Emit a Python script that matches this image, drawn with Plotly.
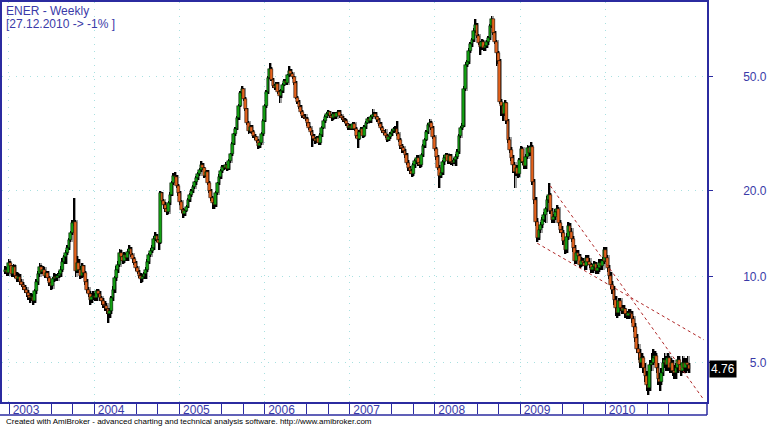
import math
import pandas as pd
import plotly.graph_objects as go

# weekly closes (open of each bar = previous close)
first_open = 10.4
close = [
    10.6, 10.3, 11.2, 10.9, 10.2, 10.8,
    10.1, 9.8, 10.0, 9.6, 9.4, 9.2,
    9.0, 8.8, 8.6, 8.4, 8.5, 8.2,
    8.9, 9.6, 10.2, 10.8, 10.4, 10.6,
    10.1, 10.3, 9.9, 9.5, 9.3, 9.8,
    10.0, 9.9, 10.1, 10.2, 10.6, 11.3, 11.7,
    12.1, 12.6, 13.4, 14.2, 15.4, 15.6,
    10.5, 11.2, 10.6, 10.1, 10.9, 10.3,
    9.6, 9.0, 8.7, 8.3, 8.5, 8.6,
    8.4, 8.9, 8.7, 8.4, 8.2, 8.0,
    7.9, 7.7, 7.4, 7.6, 8.4, 9.0,
    9.9, 10.6, 11.0, 12.1, 11.7, 11.4,
    11.9, 11.6, 12.2, 12.5, 11.9, 11.5,
    11.2, 10.7, 10.4, 10.1, 9.8, 10.0, 10.2,
    10.6, 11.3, 11.9, 12.3, 12.6, 13.6,
    13.9, 13.4, 13.1, 19.6, 18.4, 17.8,
    17.2, 16.9, 18.1, 19.4, 21.2, 22.6,
    22.3, 20.8, 19.6, 18.2, 17.1, 16.6,
    17.0, 17.6, 18.6, 19.3, 19.9, 20.6,
    21.4, 22.1, 22.8, 23.6, 24.7, 24.0,
    22.6, 23.2, 21.3, 20.0, 18.8, 18.1,
    17.8, 19.6, 21.2, 22.4, 23.5, 24.2, 24.0,
    24.6, 23.9, 25.4, 26.8, 29.2, 31.5,
    33.0, 35.8, 39.6, 43.8, 45.2, 42.0,
    38.5, 34.6, 32.3, 33.4, 32.0, 31.2,
    30.8, 29.9, 28.7, 29.4, 31.6, 35.2,
    39.5, 44.2, 49.6, 53.5, 48.8, 46.5,
    45.8, 47.2, 44.3, 42.8, 44.6, 46.9,
    48.3, 47.5, 50.6, 52.4, 51.2, 49.8,
    47.6, 42.3, 41.0, 39.2, 37.6, 36.4, 36.0,
    35.7, 34.4, 33.1, 32.0, 31.2, 30.4,
    29.8, 30.6, 29.4, 31.3, 33.2, 35.1,
    36.3, 37.0, 37.6, 36.4, 35.8, 37.1,
    36.2, 37.3, 37.8, 36.6, 35.9, 35.4,
    35.0, 34.1, 33.2, 33.8, 33.0, 34.2,
    32.8, 31.1, 30.4, 32.2, 33.0, 31.2,
    33.4, 34.6, 35.7, 35.0, 36.2, 36.8,
    37.2, 36.1, 35.4, 34.3, 33.1, 32.4, 31.8,
    31.0, 30.2, 30.8, 31.6, 32.3, 33.0,
    32.8, 31.6, 30.1, 28.6, 28.2, 27.5,
    26.6, 25.1, 24.0, 23.4, 22.9, 24.6,
    25.4, 26.1, 25.0, 24.6, 26.7, 28.6,
    30.2, 32.1, 34.0, 34.6, 33.2, 30.8,
    28.0, 26.2, 24.1, 22.6, 23.1, 25.2,
    26.1, 26.6, 25.4, 26.4, 25.2, 25.0, 25.6,
    26.3, 27.4, 31.2, 33.1, 33.8, 45.5,
    55.2, 56.4, 61.8, 65.0, 67.3, 72.5,
    76.0, 69.4, 65.8, 63.5, 66.4, 63.0,
    64.2, 66.0, 68.3, 75.2, 79.5, 71.0,
    66.2, 60.5, 56.8, 41.0, 39.5, 37.2,
    40.5, 35.0, 30.2, 27.8, 26.0, 24.6,
    23.2, 24.1, 22.8, 25.6, 28.0, 25.2,
    24.4, 26.3, 28.2, 27.0, 28.5, 21.5,
    18.5, 15.6, 13.7, 14.6, 15.2, 15.8, 16.4,
    17.2, 18.6, 19.3, 17.0, 15.8, 16.2,
    16.8, 17.2, 15.4, 14.6, 14.2, 13.3,
    12.4, 13.8, 15.1, 14.4, 13.6, 12.6,
    11.4, 12.1, 11.8, 11.0, 11.4, 11.2,
    10.9, 11.6, 11.3, 11.0, 10.6, 10.8,
    11.1, 10.5, 10.7, 11.2, 10.9, 11.4,
    12.4, 11.6, 10.7, 10.1, 9.4, 9.0,
    8.3, 7.8, 7.5, 8.2, 7.8, 7.6, 7.7,
    7.4, 7.3, 7.5, 7.4, 7.1, 6.7,
    6.1, 5.6, 5.4, 5.0, 5.2, 4.8,
    4.5, 4.2, 4.1, 4.9, 5.0, 5.2,
    5.3, 4.8, 4.4, 4.3, 4.6, 5.0,
    5.1, 4.9, 5.2, 4.8, 5.0, 4.7,
    4.6, 4.8, 5.1, 4.9, 4.7, 5.0,
    4.8, 5.0, 4.9, 4.76,
]
high = [
    10.9, 10.8, 11.5, 11.4, 11.0, 11.1,
    11.0, 10.4, 10.3, 10.2, 9.8, 9.6,
    9.4, 9.2, 9.0, 8.8, 8.8, 8.7,
    9.1, 9.8, 10.5, 11.2, 11.0, 10.9,
    10.8, 10.5, 10.5, 10.1, 9.7, 10.0,
    10.3, 10.2, 10.3, 10.5, 10.9, 11.6, 11.9,
    12.4, 12.9, 13.7, 14.5, 15.8, 18.9,
    15.8, 11.8, 11.5, 10.9, 11.2, 11.0,
    10.5, 9.8, 9.2, 8.9, 8.8, 8.9,
    8.8, 9.1, 9.1, 8.9, 8.6, 8.4,
    8.2, 8.1, 7.8, 7.8, 8.6, 9.3,
    10.1, 10.9, 11.4, 12.5, 12.4, 11.9,
    12.2, 12.1, 12.5, 12.9, 12.7, 12.1,
    11.7, 11.4, 10.9, 10.6, 10.3, 10.2, 10.4,
    10.8, 11.5, 12.1, 12.6, 12.9, 13.9,
    14.3, 14.1, 13.6, 19.9, 19.8, 18.7,
    18.2, 17.6, 18.4, 19.8, 21.6, 23.0,
    23.2, 22.7, 21.1, 19.9, 18.5, 17.4,
    17.3, 17.9, 18.9, 19.6, 20.2, 20.9,
    21.7, 22.5, 23.2, 24.0, 25.5, 25.1,
    24.3, 23.6, 23.6, 21.6, 20.3, 19.1,
    18.5, 19.9, 21.5, 22.8, 23.9, 24.6, 24.7,
    25.2, 24.9, 25.8, 27.2, 29.6, 31.9,
    33.5, 36.4, 40.2, 44.5, 46.5, 45.8,
    42.6, 39.0, 35.1, 34.0, 33.9, 32.5,
    31.7, 31.2, 30.3, 29.9, 32.0, 35.7,
    40.1, 44.9, 50.5, 56.0, 54.2, 49.5,
    47.3, 47.9, 47.9, 44.9, 45.3, 47.6,
    49.0, 49.1, 51.3, 54.5, 53.1, 51.9,
    50.5, 48.3, 42.9, 41.6, 39.8, 38.2, 37.0,
    37.0, 36.2, 34.9, 33.6, 32.5, 31.7,
    30.9, 31.1, 31.0, 31.8, 33.7, 35.6,
    36.8, 37.6, 38.2, 38.1, 37.0, 37.6,
    37.7, 37.8, 38.4, 38.3, 37.1, 36.4,
    35.9, 35.5, 34.6, 34.3, 34.3, 34.7,
    34.7, 33.3, 31.6, 32.7, 33.5, 33.4,
    33.9, 35.1, 36.2, 36.1, 36.7, 38.5,
    37.7, 37.6, 36.6, 35.9, 34.8, 33.6, 32.6,
    32.9, 31.5, 31.3, 32.1, 32.8, 33.5,
    33.6, 35.2, 32.1, 30.6, 29.1, 28.7,
    28.0, 27.1, 25.6, 24.5, 23.9, 25.1,
    25.9, 26.6, 26.6, 25.5, 27.2, 29.1,
    30.7, 32.6, 34.6, 35.6, 35.1, 33.7,
    31.3, 28.5, 26.7, 24.6, 23.6, 25.7,
    26.6, 27.1, 27.1, 26.9, 26.9, 25.7, 26.1,
    26.8, 27.9, 31.7, 33.6, 34.5, 46.3,
    56.2, 57.5, 63.0, 66.3, 68.6, 74.0,
    80.0, 77.2, 70.6, 67.0, 67.6, 67.5,
    65.4, 67.2, 69.5, 76.5, 81.5, 80.0,
    72.2, 67.4, 61.6, 57.8, 41.8, 40.3,
    41.5, 41.0, 35.7, 30.8, 28.4, 26.6,
    25.2, 24.6, 24.6, 26.1, 28.6, 28.5,
    25.7, 26.8, 28.8, 28.7, 29.5, 29.0,
    22.0, 19.0, 16.0, 14.9, 15.6, 16.2, 16.8,
    17.6, 19.1, 21.2, 19.7, 17.4, 16.6,
    17.2, 17.8, 17.6, 15.8, 15.0, 14.6,
    13.6, 14.2, 15.5, 15.4, 14.8, 13.9,
    12.9, 12.4, 12.4, 12.0, 11.7, 11.6,
    11.4, 11.9, 11.9, 11.6, 11.2, 11.1,
    11.4, 11.3, 11.0, 11.5, 11.5, 11.7,
    12.7, 12.7, 11.9, 11.0, 10.4, 9.7,
    9.3, 8.6, 8.1, 8.4, 8.4, 8.0, 8.0,
    7.8, 7.6, 7.7, 7.7, 7.6, 7.3,
    6.9, 6.3, 5.8, 5.6, 5.4, 5.3,
    5.0, 4.7, 4.4, 5.1, 5.4, 5.6,
    5.5, 5.4, 5.0, 4.6, 4.8, 5.2,
    5.4, 5.3, 5.4, 5.3, 5.2, 5.1,
    4.9, 5.0, 5.3, 5.3, 5.0, 5.3,
    5.2, 5.2, 5.3, 5.0,
]
low = [
    10.2, 10.1, 10.1, 10.6, 10.0, 10.0,
    9.9, 9.6, 9.6, 9.4, 9.2, 9.0,
    8.8, 8.5, 8.3, 8.1, 8.2, 8.0,
    8.1, 8.7, 9.4, 10.0, 10.2, 10.2,
    9.9, 9.9, 9.7, 9.3, 9.0, 9.1,
    9.6, 9.7, 9.7, 9.9, 10.0, 10.4, 11.1,
    11.1, 11.9, 12.4, 13.2, 14.0, 15.0,
    10.0, 10.3, 10.3, 9.8, 9.9, 10.0,
    9.4, 8.8, 8.5, 8.0, 8.1, 8.3,
    8.2, 8.2, 8.5, 8.2, 8.0, 7.8,
    7.6, 7.4, 6.9, 7.2, 7.4, 8.2,
    8.8, 9.7, 10.3, 10.8, 11.4, 11.1,
    11.2, 11.4, 11.4, 12.0, 11.7, 11.2,
    11.0, 10.5, 10.2, 9.9, 9.5, 9.6, 9.8,
    9.8, 10.4, 11.1, 11.7, 12.1, 12.4,
    13.3, 13.2, 12.4, 13.0, 18.0, 17.2,
    16.8, 16.4, 16.6, 17.8, 19.1, 20.9,
    21.9, 20.4, 19.2, 17.9, 16.7, 16.0,
    16.3, 16.8, 17.4, 18.3, 19.0, 19.6,
    20.3, 21.0, 21.8, 22.5, 23.3, 23.6,
    22.2, 22.3, 21.0, 19.6, 18.4, 17.3,
    17.2, 17.6, 19.3, 20.9, 22.0, 23.1, 23.6,
    23.8, 23.5, 23.6, 25.0, 26.5, 28.8,
    31.0, 32.6, 35.3, 39.1, 43.0, 41.3,
    37.9, 34.0, 31.7, 31.8, 31.5, 30.6,
    30.2, 29.4, 28.1, 28.3, 29.0, 31.2,
    34.8, 39.0, 43.6, 49.0, 48.2, 45.8,
    45.0, 45.1, 43.7, 40.5, 42.2, 44.0,
    46.3, 46.9, 46.8, 50.0, 50.5, 49.1,
    46.9, 41.7, 40.2, 38.6, 37.0, 35.8, 35.5,
    35.1, 33.8, 32.5, 31.4, 28.5, 29.8,
    29.2, 29.4, 28.8, 29.0, 30.9, 32.8,
    34.6, 35.8, 36.5, 35.9, 35.2, 35.3,
    35.6, 35.7, 36.8, 36.0, 35.3, 34.8,
    34.5, 33.6, 32.7, 32.7, 32.5, 32.6,
    32.3, 30.6, 28.2, 30.0, 31.8, 30.7,
    30.8, 33.0, 34.1, 34.5, 34.6, 35.7,
    36.3, 35.6, 34.9, 33.8, 32.6, 31.9, 31.3,
    30.5, 29.7, 29.8, 30.3, 31.1, 31.8,
    32.2, 31.1, 29.6, 28.1, 27.1, 27.0,
    26.1, 24.6, 23.5, 22.9, 22.3, 22.6,
    24.1, 24.9, 24.5, 24.1, 24.2, 26.3,
    28.2, 29.8, 31.6, 33.5, 32.7, 30.3,
    27.5, 25.7, 23.6, 20.4, 22.1, 22.7,
    24.7, 25.6, 24.9, 24.9, 24.7, 24.4, 24.8,
    24.5, 25.8, 26.9, 30.7, 32.6, 33.3,
    44.8, 54.1, 55.3, 60.6, 63.7, 66.0,
    71.2, 68.2, 64.6, 59.5, 62.3, 61.8,
    61.8, 63.0, 64.8, 67.1, 74.0, 69.8,
    65.0, 54.5, 55.7, 40.2, 36.5, 35.0,
    36.5, 34.3, 29.4, 27.2, 25.4, 23.0,
    20.4, 22.6, 22.2, 22.3, 25.1, 24.6,
    23.8, 23.9, 25.8, 26.5, 26.5, 21.0,
    18.0, 15.1, 13.2, 13.4, 14.2, 14.8, 15.6,
    15.4, 16.8, 18.1, 16.6, 15.4, 15.4,
    15.8, 16.4, 15.0, 14.2, 13.8, 12.9,
    12.0, 12.1, 13.5, 14.0, 13.2, 12.2,
    11.1, 11.1, 11.5, 10.7, 10.8, 10.9,
    10.6, 10.6, 11.0, 10.7, 10.3, 10.3,
    10.5, 10.2, 10.2, 10.4, 10.6, 10.6,
    11.1, 11.3, 10.4, 9.8, 9.1, 8.7,
    8.0, 7.3, 7.2, 7.3, 7.6, 7.4, 7.4,
    7.2, 7.1, 7.1, 7.2, 6.9, 6.4,
    5.9, 5.4, 5.1, 4.8, 4.8, 4.6,
    4.3, 4.0, 3.85, 4.0, 4.7, 4.9,
    5.0, 4.6, 4.2, 4.0, 4.2, 4.5,
    4.8, 4.7, 4.7, 4.6, 4.6, 4.5,
    4.4, 4.4, 4.6, 4.7, 4.5, 4.6,
    4.6, 4.6, 4.7, 4.6,
]

# hand drawn trend lines (start / end)
trend_a_dates = ["2009-05-11", "2011-03-01"]
trend_a_prices = [20.8, 3.71]
trend_b_dates = ["2009-03-16", "2011-03-01"]
trend_b_prices = [13.1, 6.02]

years = list(range(2003, 2011))
price_ticks = [5, 10, 20, 50]
price_labels = ["\u20075.0", "10.0", "20.0", "50.0"]
last_label = "4.76"

dates = pd.date_range("2002-12-16", periods=len(close), freq="7D")
opens = [first_open] + close[:-1]

NAVY = "#2b2ba0"
TEXT = "#3a3aa8"
GRID = "#a8e0e0"
UP = "#12a012"
DOWN = "#e4621c"
DAY = 86400000

fig = go.Figure()

# grey shadow of the high-low range, a little to the right
fig.add_trace(go.Bar(
    x=dates + pd.Timedelta(days=5), base=low, y=[h - l for h, l in zip(high, low)],
    width=5 * DAY, marker=dict(color="#a0a0a0", line=dict(width=0)),
    hoverinfo="skip", showlegend=False,
))
# black high-low wicks
fig.add_trace(go.Bar(
    x=dates, base=low, y=[h - l for h, l in zip(high, low)],
    width=3.5 * DAY, marker=dict(color="black", line=dict(width=0)),
    hoverinfo="skip", showlegend=False,
))
# candle bodies
fig.add_trace(go.Bar(
    x=dates,
    base=opens,
    y=[c - o for o, c in zip(opens, close)],
    width=12 * DAY,
    marker=dict(
        color=[UP if c >= o else DOWN for o, c in zip(opens, close)],
        line=dict(color="black", width=0.5),
    ),
    customdata=list(zip(opens, high, low, close)),
    hovertemplate="%{x|%d.%m.%Y}<br>O %{customdata[0]}<br>H %{customdata[1]}<br>"
                  "L %{customdata[2]}<br>C %{customdata[3]}<extra></extra>",
    showlegend=False,
))

for d, p in [(trend_a_dates, trend_a_prices), (trend_b_dates, trend_b_prices)]:
    fig.add_trace(go.Scatter(
        x=d, y=p, mode="lines",
        line=dict(color="#b02828", width=1, dash="3px,3px"),
        showlegend=False, hoverinfo="skip",
    ))

minor_vals = [f"{y}-01-02" for y in years]
minor_vals += [f"{y}-{m}-01" for y in years for m in ("07", "10")]

fig.update_layout(
    width=770, height=429,
    margin=dict(l=2, r=63, t=2, b=27),
    paper_bgcolor="white",
    plot_bgcolor="white",
    font=dict(family="Liberation Sans, Arial, sans-serif", size=12, color=TEXT),
    showlegend=False,
    barmode="overlay",
    bargap=0,
    xaxis=dict(
        type="date",
        range=["2002-12-02", "2011-03-14"],
        automargin=False,
        tickmode="array",
        tickvals=[f"{y}-01-01" for y in years],
        ticktext=[str(y) for y in years],
        ticks="outside", ticklen=0, tickcolor=NAVY,
        ticklabelshift=17, ticklabelstandoff=-4,
        tickfont=dict(color=TEXT, size=12),
        showgrid=True, gridcolor=GRID, griddash="1px,6px", gridwidth=1,
        showline=True, linecolor=NAVY, linewidth=1.5, mirror=True,
        zeroline=False,
        minor=dict(
            tickmode="array",
            tickvals=minor_vals,
            ticks="outside", ticklen=10, tickcolor=NAVY, showgrid=False,
        ),
    ),
    yaxis=dict(
        type="log",
        side="right",
        automargin=False,
        range=[math.log10(3.65), math.log10(91.4)],
        tickmode="array",
        tickvals=price_ticks,
        ticktext=price_labels,
        ticks="outside", ticklen=4, tickcolor=NAVY,
        ticklabelstandoff=28,
        tickfont=dict(color=TEXT, size=12),
        showgrid=True, gridcolor=GRID, griddash="1px,6px", gridwidth=1,
        showline=True, linecolor=NAVY, linewidth=1.5, mirror=True,
        zeroline=False,
    ),
)

# axis box under the chart
fig.add_shape(type="line", xref="paper", yref="paper", x0=-0.003, x1=1, y0=-0.0325, y1=-0.0325,
              line=dict(color=NAVY, width=1.5))
fig.add_shape(type="line", xref="paper", yref="paper", x0=1, x1=1, y0=0, y1=-0.0325,
              line=dict(color=NAVY, width=1.5))

fig.add_annotation(xref="paper", yref="paper", x=0.003, y=0.9775, xanchor="left", yanchor="middle",
                   text="ENER - Weekly", showarrow=False, font=dict(size=12, color=TEXT))
fig.add_annotation(xref="paper", yref="paper", x=0.003, y=0.945, xanchor="left", yanchor="middle",
                   text="[27.12.2010 -> -1% ]", showarrow=False, font=dict(size=12, color=TEXT))
fig.add_annotation(xref="paper", yref="y", x=1, y=math.log10(close[-1]), xanchor="left", yanchor="middle",
                   xshift=2, text=last_label, showarrow=False, bgcolor="black", borderpad=1,
                   font=dict(size=12, color="white"))
fig.add_annotation(xref="paper", yref="paper", x=0.003, y=-0.0475, xanchor="left", yanchor="middle",
                   text="Created with AmiBroker - advanced charting and technical analysis software. http://www.amibroker.com",
                   showarrow=False, font=dict(size=8, color="black"))

# the page's default body margin would push the fixed-size figure off the window
fig.write_html("out.html", config={"displayModeBar": False},
               post_script="document.body.style.margin='0';")
